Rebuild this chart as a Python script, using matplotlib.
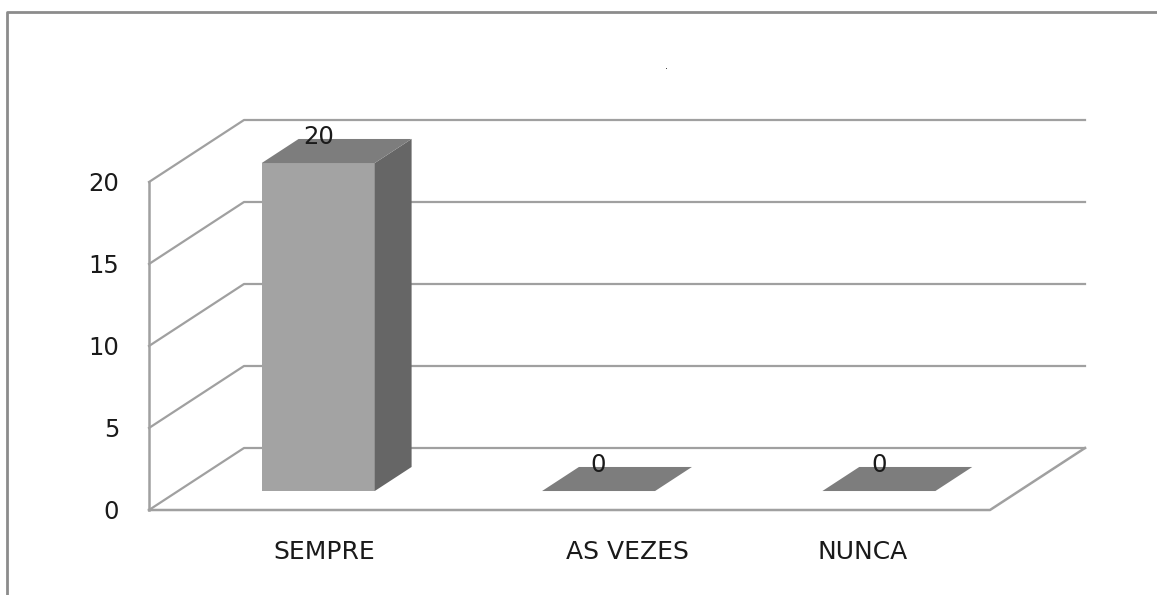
#!/usr/bin/python3
import numpy as np
from matplotlib import pyplot as plt
from matplotlib.lines import Line2D
from matplotlib.patches import Polygon

categories = ['SEMPRE', 'AS VEZES', 'NUNCA']
values = [20, 0, 0]
y_ticks = [0, 5, 10, 15, 20]

W, H = 1157, 595
fig = plt.figure(figsize=(W/100, H/100), dpi=100)
fig.patch.set_facecolor('white')

# outer frame, only top and left are inside the picture
fig.add_artist(Line2D([7/W, 7/W, 1], [0, 1-12/H, 1-12/H], color='#8c8c8c', lw=2))

# y: 510 -> 182 px, x: 149 -> 990 px
ax = fig.add_axes([149/W, 1-510/H, 841/W, 328/H])
ax.set_xlim(0, 3)
ax.set_ylim(0, 20)
ax.axis('off')

# fake 3d depth, in data units
depth_x = 95/841*3
depth_y = 62/328*20
bar_w = 113/841*3
front_d = 0.306
back_d = 0.694
linecol = '#a0a0a0'
textcol = '#1a1a1a'
fs_num = 17.5
fs_cat = 18

def skew(x, y, d):
    return (x + d*depth_x, y + d*depth_y)

# walls and floor
for t in y_ticks:
    ax.plot([0, depth_x, 3 + depth_x], [t, t + depth_y, t + depth_y], color=linecol, lw=1.6, clip_on=False)
ax.plot([0, 0], [0, 20], color=linecol, lw=1.8, clip_on=False)
ax.plot([0, 3, 3 + depth_x], [0, 0, depth_y], color=linecol, lw=1.8, clip_on=False)

for t in y_ticks:
    ax.text(-30/841*3, t - 0.1, str(t), ha='right', va='center', fontsize=fs_num, color=textcol)

for i in range(len(values)):
    v = values[i]
    x0 = i + 0.5 - bar_w/2
    x1 = i + 0.5 + bar_w/2
    front = [skew(x0, 0, front_d), skew(x1, 0, front_d), skew(x1, v, front_d), skew(x0, v, front_d)]
    side = [skew(x1, 0, front_d), skew(x1, 0, back_d), skew(x1, v, back_d), skew(x1, v, front_d)]
    top = [skew(x0, v, front_d), skew(x1, v, front_d), skew(x1, v, back_d), skew(x0, v, back_d)]
    ax.add_patch(Polygon(front, closed=True, fc='#a3a3a3', ec='none', zorder=3, clip_on=False))
    ax.add_patch(Polygon(side, closed=True, fc='#666666', ec='none', zorder=3, clip_on=False))
    ax.add_patch(Polygon(top, closed=True, fc='#7d7d7d', ec='none', zorder=3, clip_on=False))
    lx, ly = skew(i + 0.5, v + 1.6, front_d)
    ax.text(lx, ly, str(v), ha='center', va='center', fontsize=fs_num, color=textcol, zorder=4, clip_on=False)

# category labels sit unevenly in the original
label_x = [0.624, 1.708, 2.547]
for i in range(len(categories)):
    ax.text(label_x[i], -2.55, categories[i], ha='center', va='center', fontsize=fs_cat, color=textcol)

# stray speck above the plot
fig.text(666/W, 1-69/H, '.', ha='center', va='baseline', fontsize=7, color='#222222')

plt.savefig('out.png', dpi=100)
